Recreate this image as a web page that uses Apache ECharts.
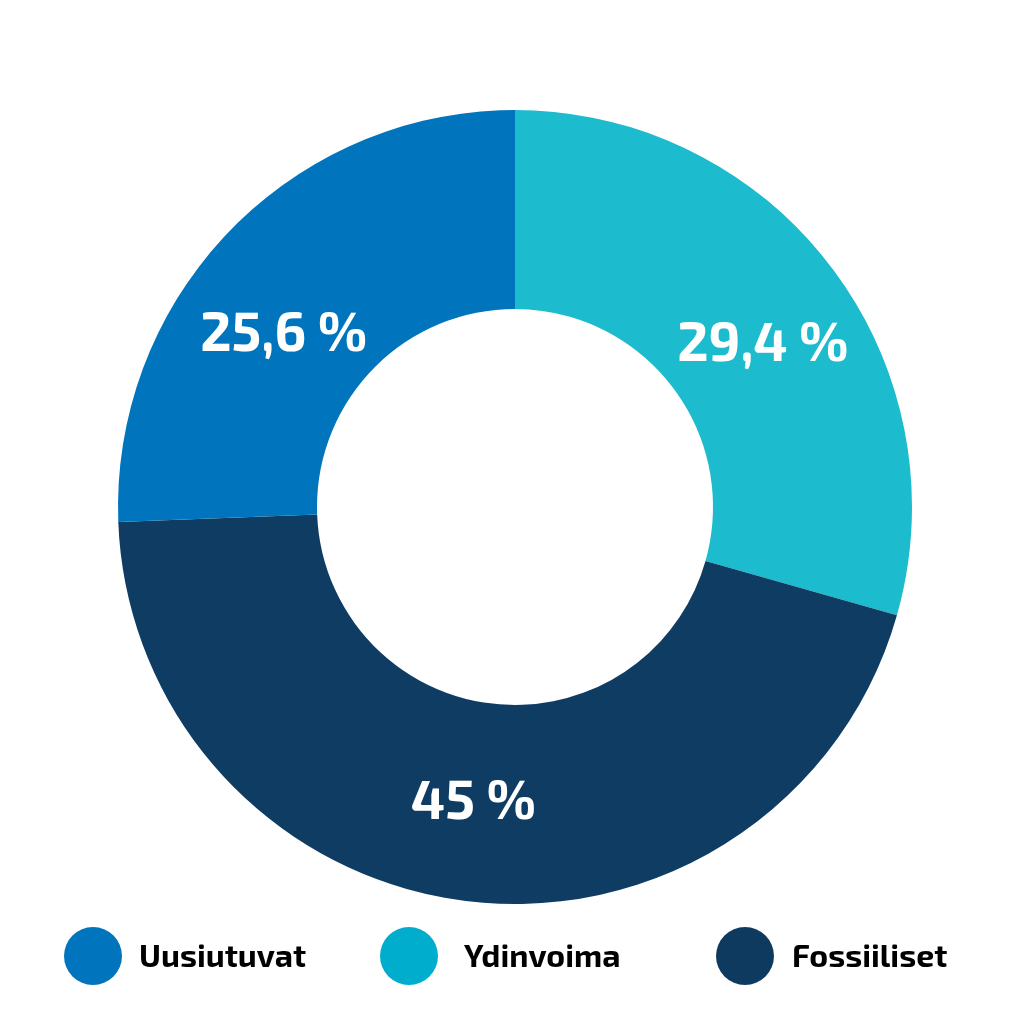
<!DOCTYPE html>
<html>
<head>
<meta charset="utf-8">
<script src="https://cdn.jsdelivr.net/npm/echarts@6/dist/echarts.min.js"></script>
<style>
  html, body { margin: 0; padding: 0; background: #ffffff; }
  #chart { width: 1024px; height: 1024px; }
</style>
</head>
<body>
<div id="chart"></div>
<script>
// slices in drawing order, clockwise from the top
const categories = ["Ydinvoima", "Fossiiliset", "Uusiutuvat"];
const shares = [29.4, 45, 25.6];
const sliceColors = ["#1dbbce", "#0f3c63", "#0075be"];

// legend order as shown under the chart
const legendNames = ["Uusiutuvat", "Ydinvoima", "Fossiiliset"];
const legendColors = ["#0075be", "#00adcd", "#0f3a5f"];
const legendLefts = [64, 380, 716];
const legendTextGaps = [12, 21, 13];

const labelOffsets = [[8, 17], [-6, -4], [-15, 34]];
const font = "'Exo 2', 'Noto Sans', 'Open Sans', sans-serif";

const chart = echarts.init(document.getElementById("chart"), null, { renderer: "canvas" });

const fmt = (v) => String(v).replace(".", ",") + " %";

chart.setOption({
  animation: false,
  backgroundColor: "#ffffff",
  legend: legendNames.map((name, i) => ({
    left: legendLefts[i],
    top: 927,
    padding: 0,
    icon: "circle",
    itemWidth: 58,
    itemHeight: 58,
    selectedMode: false,
    data: [{ name, itemStyle: { color: legendColors[i] } }],
    textStyle: {
      fontFamily: font,
      fontWeight: "bold",
      fontSize: 32,
      color: "#000000",
      padding: [0, 0, 0, legendTextGaps[i]],
    },
  })),
  series: [
    {
      type: "pie",
      center: [515, 507],
      radius: [198, 397],
      startAngle: 90,
      clockwise: true,
      silent: true,
      data: categories.map((name, i) => ({
        name,
        value: shares[i],
        itemStyle: { color: sliceColors[i] },
        label: { offset: labelOffsets[i] },
      })),
      label: {
        show: true,
        position: "inside",
        formatter: (p) => fmt(p.value),
        color: "#ffffff",
        fontFamily: font,
        fontWeight: "bold",
        fontSize: 54,
      },
      labelLine: { show: false },
      itemStyle: { borderWidth: 0 },
    },
  ],
});
</script>
</body>
</html>
